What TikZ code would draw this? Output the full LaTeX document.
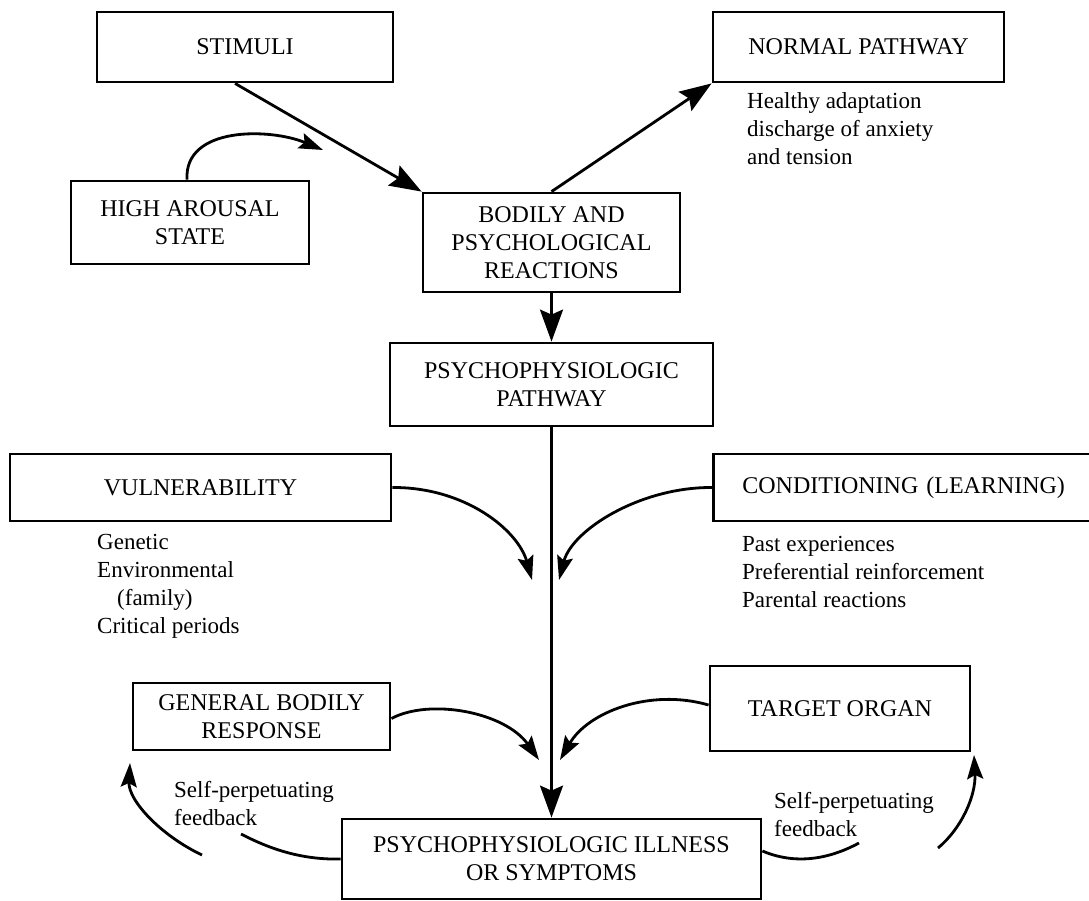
\documentclass[tikz,border=0pt]{standalone}
\usepackage{fontspec}
\setmainfont{Liberation Serif}
\usetikzlibrary{arrows.meta}
\begin{document}
\begin{tikzpicture}[x=1pt,y=-1pt,
  box/.style={draw,line width=2.8pt,inner sep=0pt,align=center,font=\fontsize{24}{28}\selectfont},
  txt/.style={inner sep=0pt,align=left,anchor=north west,font=\fontsize{23}{28}\selectfont},
  big/.style={line width=2.8pt,-{Stealth[length=32pt,width=23pt,inset=5pt]}},
  small/.style={line width=2.8pt,-{Stealth[length=24pt,width=16pt,inset=4pt]}},
  plain/.style={line width=2.8pt}]
\useasboundingbox (0,0) rectangle (1089,901);
\clip (0,0) rectangle (1089,901);
% boxes
\node[box,minimum width=296pt,minimum height=70pt] (stim) at (245,47) {STIMULI};
\node[box,minimum width=238pt,minimum height=83pt] (high) at (190,222.5) {HIGH AROUSAL\\STATE};
\node[box,minimum width=257pt,minimum height=99pt] (bodily) at (551.5,242.5) {BODILY AND\\PSYCHOLOGICAL\\REACTIONS};
\node[box,minimum width=291pt,minimum height=70pt] (normal) at (858.5,47) {NORMAL PATHWAY};
\node[box,minimum width=323pt,minimum height=83pt] (psy) at (551.5,384.5) {PSYCHOPHYSIOLOGIC\\PATHWAY};
\node[box,minimum width=381pt,minimum height=67pt] (vuln) at (200.5,487.5) {VULNERABILITY};
\node[box,anchor=west,minimum width=388pt,minimum height=67pt,text width=330pt,align=left,inner xsep=29pt] (cond) at (712,487.5) {CONDITIONING (LEARNING)};
\node[box,minimum width=257pt,minimum height=67pt] (gen) at (261.5,716.5) {GENERAL BODILY\\RESPONSE};
\node[box,minimum width=260pt,minimum height=85pt] (target) at (840,708.5) {TARGET ORGAN};
\node[box,minimum width=419pt,minimum height=80pt] (ill) at (551.5,859) {PSYCHOPHYSIOLOGIC ILLNESS\\OR SYMPTOMS};
% texts
\node[txt] (healthy) at (747,92) {Healthy adaptation\\discharge of anxiety\\and tension};
\node[txt] (vlist) at (97,534) {Genetic\\Environmental\\\hspace*{20pt}(family)\\Critical periods};
\node[txt] (clist) at (742,536) {Past experiences\\Preferential reinforcement\\Parental reactions};
\node[txt] (fbl) at (174,781) {Self-perpetuating\\feedback};
\node[txt] (fbr) at (774,792) {Self-perpetuating\\feedback};
% free ends
\coordinate (hiEnd) at (323,150);
\coordinate (vEnd) at (532,580);
\coordinate (cEnd) at (559,580);
\coordinate (gEnd) at (539,760);
\coordinate (tEnd) at (560,760);
\coordinate (fbLa) at (241,834);
\coordinate (fbLb) at (202,855);
\coordinate (fbLtip) at (130,763);
\coordinate (fbRa) at (859,843);
\coordinate (fbRb) at (938,848);
\coordinate (fbRtip) at (974,755);
% connectors
\draw[big] ([xshift=-10pt]stim.south) -- (bodily.north west);
\draw[small] ([xshift=-3pt]high.north) .. controls (184,126) and (270,128) .. (hiEnd);
\draw[big] (bodily.north) -- (normal.south west);
\draw[big] (bodily.south) -- (psy.north);
\draw[big] (psy.south) -- (ill.north);
\draw[small] (vuln.east) .. controls (465,487) and (518,530) .. (vEnd);
\draw[small] (cond.west) .. controls (640,487) and (572,530) .. (cEnd);
\draw[small] ([yshift=-2pt]gen.east) .. controls (430,698) and (505,712) .. (gEnd);
\draw[small] ([yshift=3.5pt]target.west) .. controls (650,688) and (588,712) .. (tEnd);
\draw[plain] (ill.west) .. controls (300,860) and (268,848) .. (fbLa);
\draw[small] (fbLb) .. controls (160,835) and (128,800) .. (fbLtip);
\draw[plain] ([yshift=8pt]ill.east) .. controls (800,867) and (835,856) .. (fbRa);
\draw[small] (fbRb) .. controls (962,828) and (976,795) .. (fbRtip);
\end{tikzpicture}
\end{document}
